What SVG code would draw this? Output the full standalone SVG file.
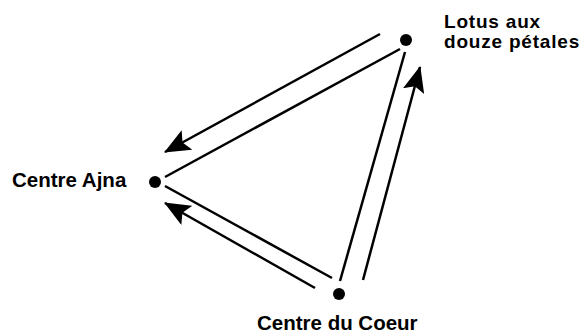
<svg xmlns="http://www.w3.org/2000/svg" width="585" height="334" viewBox="0 0 585 334">
<style>
.lbl{font-family:"Liberation Sans",Arial,sans-serif;font-weight:bold;font-size:20.5px;fill:#000}
.sm{font-size:19px;letter-spacing:0.8px}
.ln{stroke:#000;stroke-width:2.5;fill:none;stroke-linecap:butt}
.dot{fill:#000}
</style>
<defs>
<marker id="ah" markerUnits="userSpaceOnUse" markerWidth="26" markerHeight="22" viewBox="0 0 26 22" refX="25" refY="11" orient="auto">
<path d="M0,0 L26,11 L0,22 L5,11 z" fill="#000"/>
</marker>
</defs>
<rect width="585" height="334" fill="#fff"/>
<g id="connectors">
<line class="ln" x1="400" y1="49" x2="165" y2="177"/>
<line class="ln" x1="405" y1="52" x2="340" y2="281"/>
<line class="ln" x1="165" y1="186" x2="332" y2="278"/>
<line class="ln" x1="380" y1="34" x2="165" y2="152" marker-end="url(#ah)"/>
<line class="ln" x1="363" y1="280" x2="420" y2="67" stroke-width="3" marker-end="url(#ah)"/>
<line class="ln" x1="315" y1="288" x2="165" y2="203" marker-end="url(#ah)"/>
</g>
<g id="lotus">
<circle class="dot" cx="406" cy="40" r="6"/>
<text class="lbl sm" x="444" y="28">Lotus aux</text>
<text class="lbl sm" x="444" y="48">douze pétales</text>
</g>
<g id="ajna">
<circle class="dot" cx="155" cy="182" r="6"/>
<text class="lbl" x="12" y="187">Centre Ajna</text>
</g>
<g id="coeur">
<circle class="dot" cx="339" cy="294" r="6"/>
<text class="lbl" x="257" y="330">Centre du Coeur</text>
</g>
</svg>
